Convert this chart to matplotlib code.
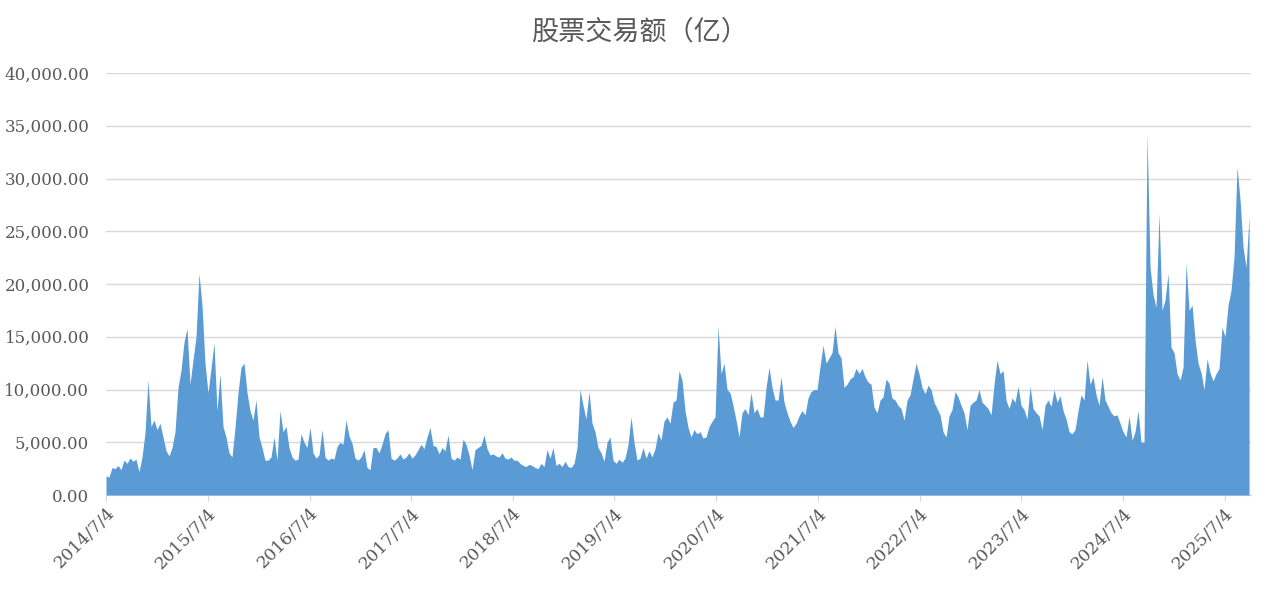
import matplotlib
matplotlib.use("Agg")
import matplotlib.pyplot as plt
from matplotlib.ticker import FuncFormatter
import pandas as pd

start_date = "2014-07-04"
end_date = "2025-09-29"

values = [
    1800, 1700, 2600, 2500, 2800, 2400, 3300, 3000, 3500, 3200,
    3400, 2200, 3600, 5900, 10900, 6500, 7100, 6200, 6800, 5500,
    4200, 3700, 4500, 6000, 10200, 11800, 14500, 15800, 10500, 12800,
    15000, 21000, 18000, 12500, 9700, 12000, 14400, 8000, 11500, 6500,
    5500, 4000, 3600, 6400, 9700, 12100, 12500, 9700, 8000, 7100,
    9000, 5500, 4500, 3300, 3300, 3600, 5500, 3300, 8000, 6000,
    6500, 4500, 3600, 3300, 3400, 5800, 5000, 4500, 6400, 4000,
    3500, 3800, 6200, 3600, 3300, 3500, 3400, 4600, 5000, 4800,
    7100, 5600, 4900, 3500, 3300, 3600, 4300, 2600, 2400, 4500,
    4500, 4000, 4800, 5800, 6200, 3500, 3300, 3500, 3900, 3400,
    3600, 4000, 3500, 3800, 4300, 4800, 4400, 5500, 6400, 4700,
    4600, 3900, 4500, 4200, 5700, 3500, 3300, 3600, 3400, 5300,
    4800, 3800, 2400, 4300, 4500, 4700, 5700, 4400, 3800, 3900,
    3700, 3600, 4000, 3500, 3400, 3600, 3300, 3300, 3000, 2800,
    2700, 2900, 2800, 2600, 2500, 3000, 2700, 4300, 3500, 4500,
    2800, 3000, 2700, 3200, 2700, 2600, 3000, 4500, 10000, 8500,
    7200, 9800, 6800, 6000, 4500, 4000, 3200, 5000, 5500, 3300,
    3000, 3400, 3100, 3500, 4800, 7400, 5000, 3300, 3500, 4500,
    3500, 4200, 3600, 4400, 5900, 5200, 7000, 7400, 6800, 8800,
    9000, 11800, 10900, 8000, 6400, 5500, 6200, 5800, 6000, 5400,
    5500, 6500, 7000, 7400, 16000, 11500, 12500, 10000, 9700, 8500,
    7100, 5500, 7800, 8200, 7600, 9700, 7800, 8200, 7400, 7400,
    10200, 12100, 10200, 9000, 9000, 11200, 8800, 7800, 7000, 6400,
    6800, 7500, 8000, 7600, 9200, 9800, 10000, 10000, 12200, 14200,
    12500, 13000, 13500, 16000, 13500, 13000, 10200, 10500, 11000, 11200,
    12000, 11500, 12000, 11200, 10700, 10500, 8300, 7800, 9000, 9300,
    11000, 10600, 9200, 9000, 8500, 8200, 7100, 9000, 9500, 11000,
    12500, 11500, 10200, 9600, 10400, 10000, 8800, 8200, 7600, 6000,
    5500, 7500, 8100, 9800, 9300, 8500, 7800, 6200, 8500, 8800,
    9000, 10000, 8800, 8500, 8200, 7600, 10500, 12800, 11500, 11800,
    9000, 8200, 9200, 8800, 10300, 8500, 8100, 7200, 10300, 8200,
    7800, 7500, 6200, 8500, 9000, 8400, 10000, 8800, 9400, 8000,
    7200, 6000, 5800, 6200, 8000, 9500, 9000, 12800, 10500, 11200,
    9500, 8500, 11200, 9000, 8400, 7800, 7500, 7600, 6800, 6000,
    5500, 7500, 5200, 6000, 8000, 5000, 5000, 34300, 21600, 19000,
    17800, 26700, 17500, 18500, 21000, 14000, 13500, 11500, 10900, 12100,
    22000, 17500, 18000, 14700, 12500, 11600, 10000, 12900, 11600, 10800,
    11500, 12000, 15900, 15000, 18000, 19400, 22600, 31100, 28000, 23500,
    21600, 26400,
]

tick_dates = ["2014-07-04", "2015-07-04", "2016-07-04", "2017-07-04",
              "2018-07-04", "2019-07-04", "2020-07-04", "2021-07-04",
              "2022-07-04", "2023-07-04", "2024-07-04", "2025-07-04"]
tick_labels = ["2014/7/4", "2015/7/4", "2016/7/4", "2017/7/4", "2018/7/4",
               "2019/7/4", "2020/7/4", "2021/7/4", "2022/7/4", "2023/7/4",
               "2024/7/4", "2025/7/4"]
y_ticks = [0, 5000, 10000, 15000, 20000, 25000, 30000, 35000, 40000]
title = "股票交易额（亿）"

# ---- plot ----
dates = pd.date_range(start_date, end_date, periods=len(values))

fig = plt.figure(figsize=(12.8, 5.89), dpi=100)
ax = fig.add_axes([106 / 1280, 1 - 495 / 589, (1251 - 106) / 1280, (495 - 73) / 589])

ax.fill_between(dates, values, 0, color="#5B9BD5", linewidth=0)

ax.set_ylim(0, 40000)
ax.set_yticks(y_ticks)
ax.yaxis.set_major_formatter(FuncFormatter(lambda v, p: f"{v:,.2f}"))
ax.set_xlim(pd.Timestamp("2014-07-04"), pd.Timestamp("2025-10-06"))
ax.set_xticks(pd.to_datetime(tick_dates))
ax.set_xticklabels(tick_labels, rotation=45, ha="right", rotation_mode="anchor")

ax.grid(axis="y", color="#D9D9D9", linewidth=1)
ax.set_axisbelow(True)
for s in ["left", "right", "top"]:
    ax.spines[s].set_visible(False)
ax.spines["bottom"].set_color("#D9D9D9")
ax.spines["bottom"].set_zorder(0)

ax.tick_params(axis="y", length=0, pad=12, labelsize=12, labelcolor="#595959")
ax.tick_params(axis="x", length=4, color="#D9D9D9", pad=3, labelsize=12.5, labelcolor="#595959")
for lab in ax.get_yticklabels() + ax.get_xticklabels():
    lab.set_family("DejaVu Serif")

fig.text(0.5, 1 - 32 / 589, title, ha="center", va="center", fontsize=19.5,
         color="#595959", family=["Noto Sans CJK SC", "DejaVu Sans"])

fig.savefig("out.png", dpi=100)
